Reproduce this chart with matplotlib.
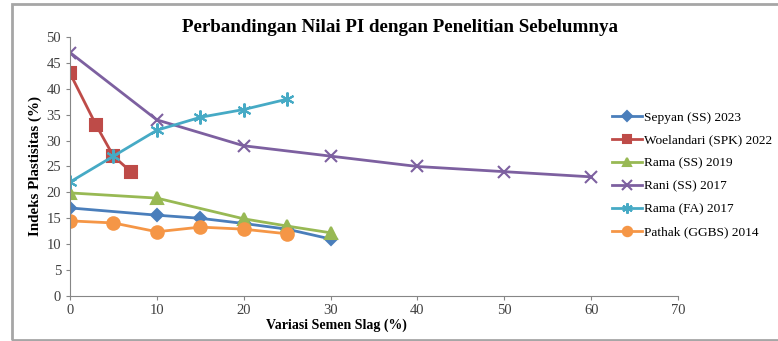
import matplotlib
matplotlib.use("Agg")
import matplotlib.pyplot as plt
from matplotlib.patches import Rectangle

plt.rcParams['font.family'] = ['Liberation Serif', 'DejaVu Serif']

# Series data: slag cement variation (%) vs plasticity index (%)
sepyan_x = [0, 10, 15, 20, 25, 30]
sepyan_y = [17, 15.6, 15, 14, 12.9, 11]

woelandari_x = [0, 3, 5, 7]
woelandari_y = [43, 33, 27, 24]

rama_ss_x = [0, 10, 20, 25, 30]
rama_ss_y = [19.9, 18.9, 14.9, 13.5, 12.2]

rani_x = [0, 10, 20, 30, 40, 50, 60]
rani_y = [47, 34, 29, 27, 25, 24, 23]

rama_fa_x = [0, 5, 10, 15, 20, 25]
rama_fa_y = [22, 27, 32, 34.5, 36, 38]

pathak_x = [0, 5, 10, 15, 20, 25]
pathak_y = [14.5, 14.1, 12.4, 13.3, 12.9, 12]

labels = ["Sepyan (SS) 2023", "Woelandari (SPK) 2022", "Rama (SS) 2019",
          "Rani (SS) 2017", "Rama (FA) 2017", "Pathak (GGBS) 2014"]

x_ticks = [0, 10, 20, 30, 40, 50, 60, 70]
y_ticks = [0, 5, 10, 15, 20, 25, 30, 35, 40, 45, 50]

fig = plt.figure(figsize=(7.78, 3.41), dpi=100)
ax = fig.add_axes([0.09, 0.132, 0.7815, 0.7595])

# Outer chart frame
fig.patches.append(Rectangle((12 / 778, 1 / 341), 780 / 778, 336 / 341,
                             transform=fig.transFigure, fill=False,
                             edgecolor='#A6A6A6', linewidth=2.0))

series = [
    (sepyan_x, sepyan_y, '#4A7EBB', 'D', 6.5, labels[0]),
    (woelandari_x, woelandari_y, '#BE4B48', 's', 8, labels[1]),
    (rama_ss_x, rama_ss_y, '#98B954', '^', 8, labels[2]),
    (rani_x, rani_y, '#7D60A0', 'x', 9, labels[3]),
    (rama_fa_x, rama_fa_y, '#46AAC5', (6, 2, 0), 10, labels[4]),
    (pathak_x, pathak_y, '#F59646', 'o', 9, labels[5]),
]

for xs, ys, col, mk, ms, lab in series:
    ax.plot(xs, ys, color=col, linewidth=2.0, marker=mk, markersize=ms,
            markerfacecolor=col, markeredgecolor=col, markeredgewidth=1.5,
            label=lab)

ax.set_xlim(0, 70)
ax.set_ylim(0, 50)
ax.set_xticks(x_ticks)
ax.set_yticks(y_ticks)
ax.tick_params(axis='both', labelsize=10.5, colors='#868686', labelcolor='#404040',
               length=3, width=0.8, direction='out')
ax.tick_params(axis='x', pad=3)
for side in ('top', 'right'):
    ax.spines[side].set_visible(False)
for side in ('left', 'bottom'):
    ax.spines[side].set_color('#868686')
    ax.spines[side].set_linewidth(0.8)

ax.set_ylabel("Indeks Plastisitas (%)", fontsize=10.8, fontweight='bold', labelpad=3)
fig.text(336 / 778, 1 - 325 / 341, "Variasi Semen Slag (%)", ha='center',
         va='center', fontsize=10, fontweight='bold')

fig.text(400 / 778, 1 - 28 / 341, "Perbandingan Nilai PI dengan Penelitian Sebelumnya",
         ha='center', va='center', fontsize=13.7, fontweight='bold')

leg = fig.legend(loc='upper left', bbox_to_anchor=(607 / 778, 1 - 106 / 341),
                 frameon=False, fontsize=9.6, handlelength=2.2, handletextpad=0.2,
                 labelspacing=0.8, borderaxespad=0, markerscale=0.75)

fig.savefig("out.png", dpi=100)
